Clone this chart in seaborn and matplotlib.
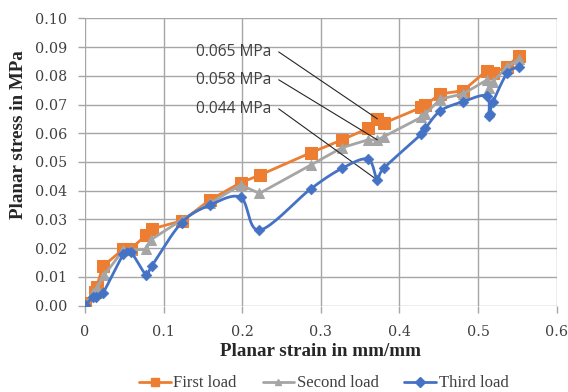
import numpy as np
import pandas as pd
import matplotlib
matplotlib.use("Agg")
import matplotlib.pyplot as plt
import seaborn as sns
from matplotlib.lines import Line2D

# ---- data ----
first_x = [0.0, 0.0127, 0.0148, 0.023, 0.049, 0.058, 0.078, 0.085, 0.124, 0.159, 0.198, 0.223,
           0.287, 0.327, 0.360, 0.372, 0.380, 0.428, 0.433, 0.452, 0.481, 0.511, 0.519, 0.537, 0.552]
first_y = [0.001, 0.0049, 0.0066, 0.0138, 0.0197, 0.0197, 0.0246, 0.0267, 0.0296, 0.0368, 0.0428, 0.0455,
           0.0532, 0.0577, 0.0617, 0.065, 0.0635, 0.069, 0.0698, 0.0737, 0.0748, 0.0818, 0.0809, 0.0832, 0.087]

second_x = [0.0, 0.0106, 0.0148, 0.0246, 0.049, 0.059, 0.078, 0.0835, 0.123, 0.159, 0.198, 0.222,
            0.287, 0.327, 0.360, 0.372, 0.380, 0.428, 0.433, 0.452, 0.481, 0.511, 0.514, 0.519, 0.537, 0.552]
second_y = [0.0002, 0.0043, 0.0060, 0.0107, 0.0194, 0.0194, 0.0196, 0.0229, 0.0298, 0.0357, 0.042, 0.0391,
            0.0489, 0.055, 0.0577, 0.0577, 0.0588, 0.0656, 0.0667, 0.0719, 0.0737, 0.0785, 0.0756, 0.0779, 0.0832, 0.0857]

third_x = [0.0, 0.0106, 0.014, 0.023, 0.049, 0.058, 0.078, 0.085, 0.123, 0.159, 0.198, 0.222,
           0.287, 0.327, 0.360, 0.372, 0.380, 0.428, 0.433, 0.452, 0.481, 0.511, 0.514, 0.515, 0.519, 0.537, 0.552]
third_y = [0.0002, 0.0031, 0.0031, 0.0045, 0.0179, 0.0188, 0.0107, 0.0138, 0.0289, 0.035, 0.0377, 0.0263,
           0.0406, 0.0478, 0.051, 0.0437, 0.0478, 0.0597, 0.0617, 0.0678, 0.071, 0.073, 0.066, 0.0668, 0.0708, 0.0809, 0.083]

series_names = ["First load", "Second load", "Third load"]
colors = ["#ED7D31", "#A5A5A5", "#4472C4"]
markers = ["s", "^", "D"]

x_ticks = [0, 0.1, 0.2, 0.3, 0.4, 0.5, 0.6]
x_tick_labels = ["0", "0.1", "0.2", "0.3", "0.4", "0.5", "0.6"]
y_ticks = [0.00, 0.01, 0.02, 0.03, 0.04, 0.05, 0.06, 0.07, 0.08, 0.09, 0.10]

annot_labels = ["0.065 MPa", "0.058 MPa", "0.044 MPa"]
annot_targets = [(0.372, 0.065), (0.372, 0.0577), (0.372, 0.0437)]
annot_text_pos = [(0.237, 0.0884), (0.237, 0.0787), (0.237, 0.0686)]


def catmull_rom(xs, ys, n=20, tension=0.5):
    pts = np.column_stack([xs, ys]).astype(float)
    P = np.vstack([pts[0], pts, pts[-1]])
    out = []
    for i in range(1, len(P) - 2):
        p0, p1, p2, p3 = P[i - 1], P[i], P[i + 1], P[i + 2]
        m1 = tension * (p2 - p0)
        m2 = tension * (p3 - p1)
        t = np.linspace(0, 1, n, endpoint=False)[:, None]
        h00 = 2 * t**3 - 3 * t**2 + 1
        h10 = t**3 - 2 * t**2 + t
        h01 = -2 * t**3 + 3 * t**2
        h11 = t**3 - t**2
        out.append(h00 * p1 + h10 * m1 + h01 * p2 + h11 * m2)
    out.append(pts[-1][None, :])
    c = np.vstack(out)
    return c[:, 0], c[:, 1]


sns.set_theme(style="white")
plt.rcParams["font.family"] = ["DejaVu Sans"]

fig = plt.figure(figsize=(5.68, 3.92), dpi=100)
ax = fig.add_axes([0.1496, 0.2202, 0.8304, 0.7331])

df1 = pd.DataFrame({"x": first_x, "y": first_y})
df2 = pd.DataFrame({"x": second_x, "y": second_y})
df3 = pd.DataFrame({"x": third_x, "y": third_y})

# Gridlines
ax.set_axisbelow(True)
ax.grid(True, color="#A6A6A6", linewidth=1.0)

sns.lineplot(data=df2, x="x", y="y", sort=False, estimator=None, ax=ax, color=colors[1],
             linewidth=2.0, marker="^", markersize=7.5, markeredgecolor=colors[1], zorder=3)
sns.lineplot(data=df1, x="x", y="y", sort=False, estimator=None, ax=ax, color=colors[0],
             linewidth=2.0, marker="s", markersize=8, markeredgecolor=colors[0], zorder=2)
sx, sy = catmull_rom(third_x, third_y)
ax.plot(sx, sy, color=colors[2], linewidth=2.0, zorder=4)
sns.scatterplot(data=df3, x="x", y="y", ax=ax, color=colors[2], marker="D", s=30,
                edgecolor=colors[2], zorder=5)

ax.set_xlim(0, 0.6)
ax.set_ylim(0, 0.10)
ax.set_xticks(x_ticks)
ax.set_xticklabels(x_tick_labels)
ax.set_yticks(y_ticks)
ax.set_yticklabels([f"{v:.2f}" for v in y_ticks])

for s in ax.spines.values():
    s.set_visible(False)

tick_font = ["DejaVu Serif"]
serif = ["Liberation Serif", "DejaVu Serif"]
for lab in ax.get_xticklabels() + ax.get_yticklabels():
    lab.set_family(tick_font)
    lab.set_fontsize(10.3)
    lab.set_color("#404040")
ax.tick_params(axis="x", which="both", bottom=True, length=5, width=1, color="#A6A6A6", pad=9)
ax.tick_params(axis="y", left=True, length=5, width=1, color="#A6A6A6", pad=8)

ax.set_xlabel("Planar strain in mm/mm", family=serif, fontsize=13.7, fontweight="bold",
              color="#262626", labelpad=3)
ax.set_ylabel("Planar stress in MPa", family=serif, fontsize=13.7, fontweight="bold",
              color="#262626")
ax.yaxis.set_label_coords(-0.123, 0.594)

for lbl, tgt, pos in zip(annot_labels, annot_targets, annot_text_pos):
    ax.annotate(lbl, xy=tgt, xytext=pos, textcoords="data", ha="right", va="center",
                fontsize=11.2, color="#404040", family=["Open Sans", "DejaVu Sans"],
                arrowprops=dict(arrowstyle="-", color="#262626", linewidth=0.8,
                                shrinkA=3, shrinkB=0, relpos=(1, 0.5),
                                connectionstyle="arc,angleA=0,armA=7,angleB=0,armB=0,rad=0"))

handles = [Line2D([0], [0], color=c, marker=m, markersize=6 if m == "s" else 5, linewidth=2)
           for c, m in zip(colors, markers)]
fig.legend(handles, series_names, loc="center", bbox_to_anchor=(0.57, 0.022), ncol=3,
           frameon=False, prop={"family": serif, "size": 12}, handlelength=1.9,
           columnspacing=1.55, handletextpad=0.15, labelcolor="#404040")

fig.savefig("out.png", dpi=100)
